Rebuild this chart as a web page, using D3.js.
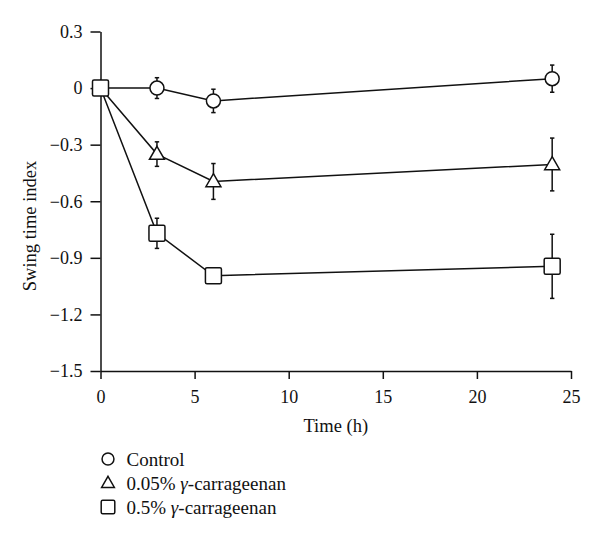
<!DOCTYPE html>
<html><head><meta charset="utf-8">
<script src="https://cdn.jsdelivr.net/npm/d3@7"></script>
<style>body{margin:0;background:#fff}</style>
</head><body>
<script>
const times = [0, 3, 6, 24];
const seriesNames = ["Control", "0.05% γ-carrageenan", "0.5% γ-carrageenan"];
const controlMean = [0, 0.0, -0.068, 0.05];
const controlErr = [0, 0.055, 0.062, 0.072];
const lowMean = [0, -0.35, -0.495, -0.405];
const lowErr = [0, 0.065, 0.095, 0.14];
const highMean = [0, -0.77, -0.995, -0.945];
const highErr = [0, 0.08, 0.0, 0.17];
const xTicks = [0, 5, 10, 15, 20, 25];
const yTicks = [0.3, 0, -0.3, -0.6, -0.9, -1.2, -1.5];

const W = 600, H = 540;
const font = "'Liberation Serif', 'Times New Roman', serif";
const svg = d3.select("body").append("svg").attr("width", W).attr("height", H)
  .style("font-family", font);

const x = d3.scaleLinear().domain([0, 25]).range([100.5, 571]);
const y = d3.scaleLinear().domain([-1.5, 0.3]).range([371, 31.5]);

// axes
const fmtY = v => v === 0 ? "0" : d3.format(".1f")(v);
const yAxis = svg.append("g").attr("transform", `translate(${x(0)},0)`)
  .call(d3.axisLeft(y).tickValues(yTicks).tickFormat(fmtY).tickSize(10).tickSizeOuter(0).tickPadding(8));
const xAxis = svg.append("g").attr("transform", `translate(0,${y(-1.5)})`)
  .call(d3.axisBottom(x).tickValues(xTicks).tickSize(8).tickSizeOuter(0).tickPadding(11));
[xAxis, yAxis].forEach(g => {
  g.attr("font-family", font).attr("font-size", 18);
  g.selectAll("path,line").attr("stroke", "#111").attr("stroke-width", 1.5);
  g.selectAll("text").attr("font-family", font).attr("font-size", 18).attr("fill", "#111");
});

svg.append("text").attr("x", (x(0) + x(25)) / 2).attr("y", 432).attr("text-anchor", "middle")
  .attr("font-size", 18.5).attr("fill", "#111").text("Time (h)");
svg.append("text").attr("transform", `translate(36,226) rotate(-90)`)
  .attr("text-anchor", "middle").attr("font-size", 18.5).attr("fill", "#111").text("Swing time index");

const series = [
  {name: seriesNames[0], mean: controlMean, err: controlErr, shape: "circle"},
  {name: seriesNames[1], mean: lowMean, err: lowErr, shape: "triangle"},
  {name: seriesNames[2], mean: highMean, err: highErr, shape: "square"}
];

function drawMarker(g, shape, cx, cy, scale) {
  const s = scale || 1;
  if (shape === "circle") {
    g.append("circle").attr("cx", cx).attr("cy", cy).attr("r", 7 * s)
      .attr("fill", "#fff").attr("stroke", "#111").attr("stroke-width", 1.5);
  } else if (shape === "triangle") {
    const h = 13 * s, w = 15 * s;
    g.append("path").attr("d", `M${cx},${cy - h * 0.6}L${cx + w / 2},${cy + h * 0.4}L${cx - w / 2},${cy + h * 0.4}Z`)
      .attr("fill", "#fff").attr("stroke", "#111").attr("stroke-width", 1.5);
  } else {
    const a = 16 * s;
    g.append("rect").attr("x", cx - a / 2).attr("y", cy - a / 2).attr("width", a).attr("height", a)
      .attr("rx", 1.5).attr("fill", "#fff").attr("stroke", "#111").attr("stroke-width", 1.5);
  }
}

const line = d3.line().x(d => x(d.t)).y(d => y(d.m));
const plot = svg.append("g");
series.forEach(s => {
  const pts = times.map((t, i) => ({t, m: s.mean[i], e: s.err[i]}));
  plot.append("path").datum(pts).attr("d", line).attr("fill", "none")
    .attr("stroke", "#111").attr("stroke-width", 1.5);
  pts.forEach(p => {
    if (p.e > 0) {
      const eg = plot.append("g").attr("stroke", "#111").attr("stroke-width", 1.5);
      eg.append("line").attr("x1", x(p.t)).attr("x2", x(p.t)).attr("y1", y(p.m + p.e)).attr("y2", y(p.m - p.e));
      [p.m + p.e, p.m - p.e].forEach(v => eg.append("line").attr("x1", x(p.t) - 2.2).attr("x2", x(p.t) + 2.2)
        .attr("y1", y(v)).attr("y2", y(v)));
    }
  });
});
series.forEach(s => {
  times.forEach((t, i) => drawMarker(plot, s.shape, x(t), y(s.mean[i])));
});

// legend
const legend = svg.append("g");
series.forEach((s, i) => {
  const base = 466 + i * 24;
  drawMarker(legend, s.shape, 108, base - 7, 0.85);
  const txt = legend.append("text").attr("x", 126.5).attr("y", base).attr("font-size", 19).attr("fill", "#111");
  if (i === 0) txt.text(s.name);
  else {
    const parts = s.name.split("γ");
    txt.append("tspan").text(parts[0]);
    txt.append("tspan").attr("font-style", "italic").text("γ");
    txt.append("tspan").text(parts[1]);
  }
});
</script>
</body></html>
